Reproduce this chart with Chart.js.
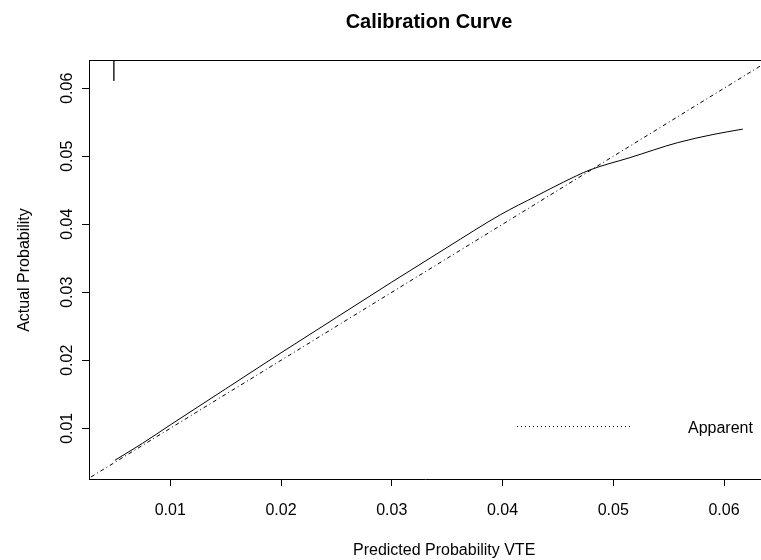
<!DOCTYPE html>
<html lang="en">
<head>
  <meta charset="UTF-8" />
  <title>Calibration Curve</title>
  <script src="https://cdn.jsdelivr.net/npm/chart.js"></script>
  <style>
    html, body { margin: 0; padding: 0; background: #fff; }
    #wrap { width: 761px; height: 560px; position: relative; }
  </style>
</head>
<body>
  <div id="wrap"><canvas id="calChart"></canvas></div>

  <script>
    // Calibration data
    const predicted = [0.0050, 0.0075, 0.0100, 0.0150, 0.0200, 0.0250, 0.0300, 0.0350, 0.0398, 0.0431, 0.0455, 0.0479, 0.0515, 0.0558, 0.0590, 0.0617];
    const observed  = [0.0053, 0.0078, 0.0105, 0.0158, 0.0211, 0.0263, 0.0315, 0.0366, 0.0414, 0.0442, 0.0462, 0.0480, 0.0498, 0.0520, 0.0532, 0.0540];
    const idealLine = [0, 0.07];
    // Distribution of predicted risk (spike at top of plot)
    const spikeX = [0.0049];
    const spikeLow = [0.0611];
    const xTicks = [0.01, 0.02, 0.03, 0.04, 0.05, 0.06];
    const yTicks = [0.01, 0.02, 0.03, 0.04, 0.05, 0.06];
    const xMin = 0.00266, xMax = 0.06334;
    const yMin = 0.002544, yMax = 0.06416;

    const FONT = "'Liberation Sans', Arial, Helvetica, sans-serif";

    const spikeSets = spikeX.map((x, i) => ({
      label: 'risk',
      data: [{ x: x, y: yMax }, { x: x, y: spikeLow[i] }],
      borderColor: '#333',
      borderWidth: 1,
      pointRadius: 0,
      showLine: true
    }));

    // Texts, top border and legend drawn R-style
    const rDecor = {
      id: 'rDecor',
      afterDraw(chart) {
        const ctx = chart.ctx;
        const area = chart.chartArea;
        const xs = chart.scales.x;
        const ys = chart.scales.y;
        ctx.save();
        ctx.strokeStyle = '#000';
        ctx.lineWidth = 1;
        ctx.beginPath();
        ctx.moveTo(area.left, Math.round(area.top) + 0.5);
        ctx.lineTo(area.right, Math.round(area.top) + 0.5);
        ctx.stroke();

        ctx.fillStyle = '#000';
        ctx.font = 'bold 20px ' + FONT;
        ctx.textAlign = 'center';
        ctx.textBaseline = 'alphabetic';
        ctx.fillText('Calibration Curve', 429, 28);

        ctx.font = '16px ' + FONT;
        xTicks.forEach(v => {
          ctx.fillText(v.toFixed(2), xs.getPixelForValue(v), 515);
        });
        yTicks.forEach(v => {
          ctx.save();
          ctx.translate(72, ys.getPixelForValue(v));
          ctx.rotate(-Math.PI / 2);
          ctx.fillText(v.toFixed(2), 0, 0);
          ctx.restore();
        });

        ctx.textAlign = 'left';
        ctx.fillText('Predicted Probability VTE', 353, 555);

        ctx.save();
        ctx.translate(29, 270);
        ctx.rotate(-Math.PI / 2);
        ctx.textAlign = 'center';
        ctx.fillText('Actual Probability', 0, 0);
        ctx.restore();

        // legend
        ctx.setLineDash([1, 3]);
        ctx.beginPath();
        ctx.moveTo(517, 426.5);
        ctx.lineTo(630, 426.5);
        ctx.stroke();
        ctx.setLineDash([]);
        ctx.textAlign = 'left';
        ctx.fillText('Apparent', 688, 433);
        ctx.restore();
      }
    };

    new Chart(document.getElementById('calChart'), {
      type: 'scatter',
      data: {
        datasets: [
          {
            label: 'Apparent',
            data: predicted.map((x, i) => ({ x: x, y: observed[i] })),
            borderColor: '#000',
            borderWidth: 1,
            pointRadius: 0,
            showLine: true,
            cubicInterpolationMode: 'monotone'
          },
          {
            label: 'Ideal',
            data: idealLine.map(v => ({ x: v, y: v })),
            borderColor: '#000',
            borderWidth: 1,
            borderDash: [1, 3, 4, 3],
            pointRadius: 0,
            showLine: true
          },
          ...spikeSets
        ]
      },
      options: {
        responsive: true,
        maintainAspectRatio: false,
        animation: false,
        events: [],
        layout: { padding: { top: 60, left: 0, right: 0, bottom: 0 } },
        plugins: {
          legend: { display: false },
          title: { display: false },
          tooltip: { enabled: false }
        },
        scales: {
          x: {
            type: 'linear',
            min: xMin,
            max: xMax,
            afterBuildTicks: s => { s.ticks = xTicks.map(v => ({ value: v })); },
            afterFit: s => { s.height = 81; },
            ticks: { display: false },
            grid: { drawOnChartArea: false, drawTicks: true, tickLength: 7, color: '#000', tickColor: '#000' },
            border: { color: '#000', width: 1 }
          },
          y: {
            type: 'linear',
            min: yMin,
            max: yMax,
            afterBuildTicks: s => { s.ticks = yTicks.map(v => ({ value: v })); },
            afterFit: s => { s.width = 89; },
            ticks: { display: false },
            grid: { drawOnChartArea: false, drawTicks: true, tickLength: 7, color: '#000', tickColor: '#000' },
            border: { color: '#000', width: 1 }
          }
        }
      },
      plugins: [rDecor]
    });
  </script>
</body>
</html>
